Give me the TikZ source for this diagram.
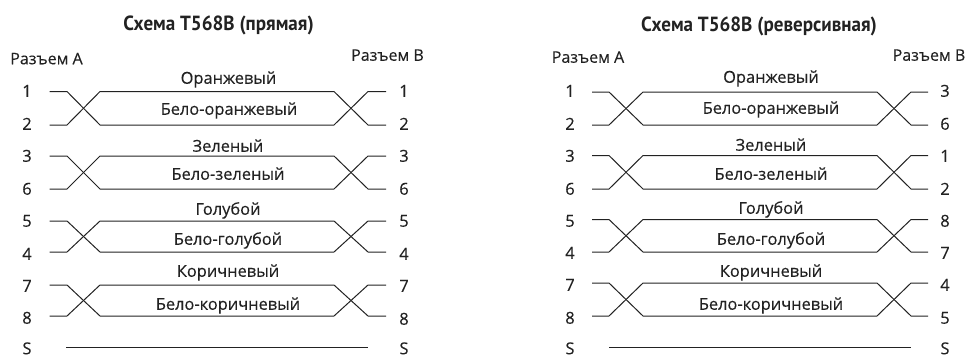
\documentclass[tikz,border=0pt]{standalone}
\usepackage{fontspec}
\setmainfont{Open Sans}
\newfontfamily\headfont{PT Sans}
\newfontfamily\labfont[FakeBold=0.3]{Open Sans}
\definecolor{ink}{HTML}{222222}
\tikzset{
  x=1pt,y=-1pt,
  wire/.style={draw=ink,line width=1pt},
  lab/.style={text=ink,inner sep=0pt,font=\labfont\fontsize{16.4}{17}\selectfont,text height=11.5pt,text depth=0pt},
  pin/.style={lab,font=\labfont\fontsize{16.5}{17}\selectfont},
  conn/.style={lab,font=\labfont\fontsize{16}{17}\selectfont},
  heading/.style={lab,font=\headfont\fontsize{20.5}{22}\bfseries\selectfont},
}
\newcommand{\narrowhead}[1]{\scalebox{0.93}[1]{#1}}
% #1 prefix, #2 x0, #3 x1, #4 x2, #5 x3, #6 x4, #7 x5, #8 y top, #9 y bottom
\newcommand{\twistpair}[9]{%
  \coordinate (#1a) at (#2,#8); \coordinate (#1b) at (#3,#8);
  \coordinate (#1c) at (#4,#8); \coordinate (#1d) at (#5,#8);
  \coordinate (#1e) at (#6,#8); \coordinate (#1f) at (#7,#8);
  \coordinate (#1g) at (#2,#9); \coordinate (#1h) at (#3,#9);
  \coordinate (#1i) at (#4,#9); \coordinate (#1j) at (#5,#9);
  \coordinate (#1k) at (#6,#9); \coordinate (#1l) at (#7,#9);
  \draw[wire] (#1a) -- (#1b) -- (#1i) -- (#1j) -- (#1e) -- (#1f);
  \draw[wire] (#1g) -- (#1h) -- (#1c) -- (#1d) -- (#1k) -- (#1l);
}
\begin{document}
\begin{tikzpicture}
\useasboundingbox (0,0) rectangle (967,356);
% Left panel
\node[heading] (t1) at (218.5,25) {\narrowhead{Схема T568B (прямая)}};
\node[conn] (ra1) at (46.5,58.5) {Разъем A};
\node[conn] (rb1) at (387.5,55) {Разъем B};
\twistpair{pa}{49.5}{67}{100}{334}{368}{386}{91.5}{125}
\twistpair{pb}{49.5}{67}{100}{334}{368}{386}{156}{189}
\twistpair{pc}{49.5}{67}{100}{334}{368}{386}{221}{252}
\twistpair{pd}{49.5}{67}{100}{334}{368}{386}{285}{316}
\coordinate (sa) at (66,347); \coordinate (sb) at (368,347);
\draw[wire] (sa) -- (sb);
\foreach \n/\t/\y in {a1/1/91,a2/2/124,a3/3/156,a4/6/189,a5/5/221,a6/4/254,a7/7/286,a8/8/318,a9/S/348.5}
  \node[pin] (l\n) at (27,\y) {\t};
\foreach \n/\t/\y in {a1/1/91,a2/2/124,a3/3/156,a4/6/189,a5/5/221,a6/4/254,a7/7/286,a8/8/319,a9/S/348.5}
  \node[pin] (r\n) at (404,\y) {\t};
\node[lab] (o1) at (228.5,78) {Оранжевый};
\node[lab] (w1) at (229,109) {Бело-оранжевый};
\node[lab] (g1) at (228,146) {Зеленый};
\node[lab] (x1) at (228,174) {Бело-зеленый};
\node[lab] (b1) at (228,209) {Голубой};
\node[lab] (y1) at (228,239) {Бело-голубой};
\node[lab] (k1) at (228,271) {Коричневый};
\node[lab] (z1) at (228,304) {Бело-коричневый};
% Right panel
\node[heading] (t2) at (759,26) {\narrowhead{Схема T568B (реверсивная)}};
\node[conn] (ra2) at (588,57) {Разъем A};
\node[conn] (rb2) at (929,55) {Разъем B};
\twistpair{qa}{592}{609}{643}{877}{911}{928}{92}{125}
\twistpair{qb}{592}{609}{643}{877}{911}{928}{155.5}{189}
\twistpair{qc}{592}{609}{643}{877}{911}{928}{219.5}{252}
\twistpair{qd}{592}{609}{643}{877}{911}{928}{283}{316}
\coordinate (ta) at (609,347); \coordinate (tb) at (911,347);
\draw[wire] (ta) -- (tb);
\foreach \n/\t/\y in {b1/1/91,b2/2/124,b3/3/156,b4/6/189,b5/5/221,b6/4/253,b7/7/285,b8/8/318,b9/S/348.5}
  \node[pin] (l\n) at (570,\y) {\t};
\foreach \n/\t/\y in {b1/3/91,b2/6/124,b3/1/156,b4/2/189,b5/8/221,b6/7/253,b7/4/285,b8/5/318,b9/S/348.5}
  \node[pin] (r\n) at (945,\y) {\t};
\node[lab] (o2) at (771,77) {Оранжевый};
\node[lab] (w2) at (771,108) {Бело-оранжевый};
\node[lab] (g2) at (771,145) {Зеленый};
\node[lab] (x2) at (771,174) {Бело-зеленый};
\node[lab] (b2) at (771,208) {Голубой};
\node[lab] (y2) at (771,239) {Бело-голубой};
\node[lab] (k2) at (771,271) {Коричневый};
\node[lab] (z2) at (771,304) {Бело-коричневый};
\end{tikzpicture}
\end{document}
